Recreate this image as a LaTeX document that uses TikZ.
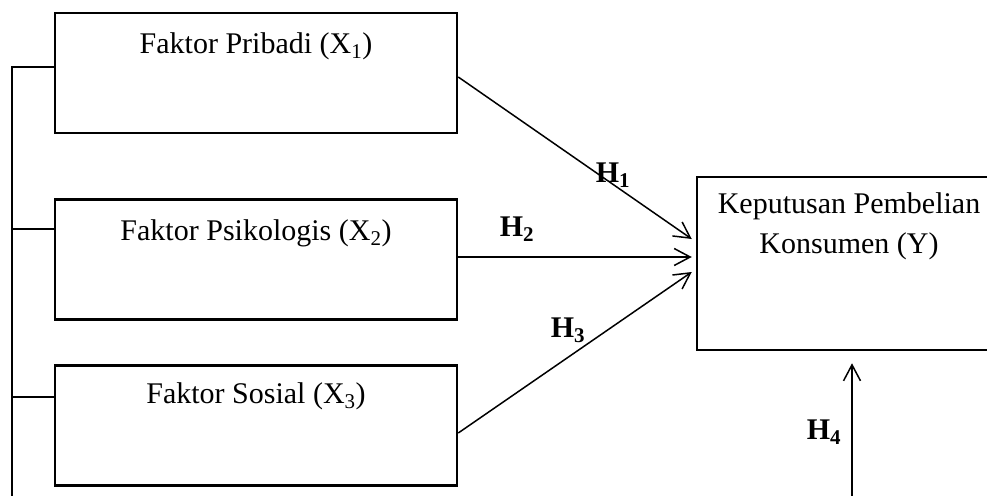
\documentclass[tikz,border=0pt]{standalone}
\usepackage{fontspec}
\setmainfont{Liberation Serif}
\usetikzlibrary{arrows.meta,calc}
\begin{document}
\begin{tikzpicture}[x=1pt,y=-1pt,
  box/.style={draw, line width=2.5pt, minimum width=402pt, minimum height=120pt, inner sep=0pt},
  ybox/.style={draw, line width=2.5pt, minimum width=330pt, minimum height=173pt, inner sep=0pt},
  lbl/.style={anchor=base, inner sep=0pt, font=\fontsize{30}{40}\selectfont},
  hyp/.style={anchor=center, inner sep=0pt, font=\fontsize{30}{36}\selectfont\bfseries},
  conn/.style={line width=1.5pt},
  arr/.style={line width=1.5pt, -{Straight Barb[length=16pt,width=17pt,line width=1.5pt]}}]
\clip (0,0) rectangle (987,495);
\fill[white] (0,0) rectangle (987,495);
% boxes
\node[box] (b1) at (256,73) {};
\node[box] (b2) at (256,259.5) {};
\node[box] (b3) at (256,425.5) {};
\node[ybox] (y) at (862,263.5) {};
% box texts
\node[lbl] (t1) at (256,53) {Faktor Pribadi (X\textsubscript{1})};
\node[lbl] (t2) at (256,240) {Faktor Psikologis (X\textsubscript{2})};
\node[lbl] (t3) at (256,403) {Faktor Sosial (X\textsubscript{3})};
\node[lbl] (ty1) at (849,213) {Keputusan Pembelian};
\node[lbl] (ty2) at (849,253) {Konsumen (Y)};
% left rail
\coordinate (railtop) at (12,67);
\coordinate (railbot) at (12,500);
\draw[conn] ($(b1.west)+(0,-6)$) -- (railtop) -- (railbot);
\draw[conn] ($(b2.west)+(0,-30.5)$) -- ($(b2.west)+(-43,-30.5)$);
\draw[conn] ($(b3.west)+(0,-28.5)$) -- ($(b3.west)+(-43,-28.5)$);
% arrows to Y
\draw[arr] ($(b1.east)+(0,4)$) -- ($(y.west)+(-4,-24.5)$);
\draw[arr] ($(b2.east)+(0,-2.5)$) -- ($(y.west)+(-4,-6.5)$);
\draw[arr] ($(b3.east)+(0,7.5)$) -- ($(y.west)+(-4,8.5)$);
\coordinate (h4start) at (852,500);
\draw[arr] (h4start) -- ($(y.south)+(-10,12)$);
% hypothesis labels
\node[hyp] (h1) at (613,175) {H\textsubscript{1}};
\node[hyp] (h2) at (517,229) {H\textsubscript{2}};
\node[hyp] (h3) at (568,330) {H\textsubscript{3}};
\node[hyp] (h4) at (824,432) {H\textsubscript{4}};
\end{tikzpicture}
\end{document}
